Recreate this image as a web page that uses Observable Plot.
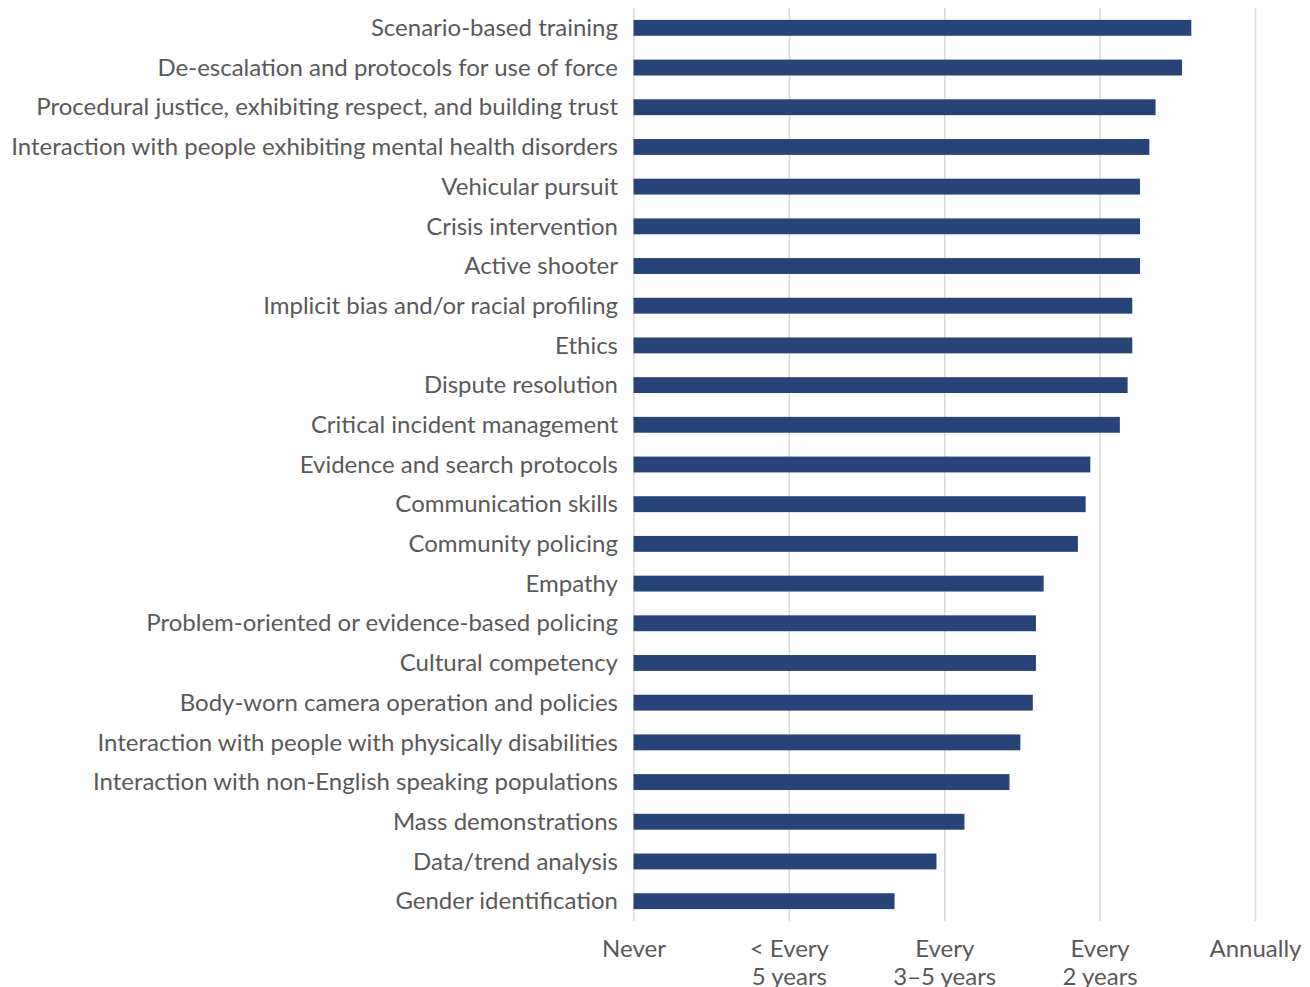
<!DOCTYPE html>
<html>
<head>
<meta charset="utf-8">
<script src="https://cdn.jsdelivr.net/npm/d3@7"></script>
<script src="https://cdn.jsdelivr.net/npm/@observablehq/plot@0.6"></script>
<style>
  html, body { margin: 0; padding: 0; background: #fff; }
  #chart svg { display: block; }
</style>
</head>
<body>
<div id="chart"></div>
<script>
const topics = [
  "Scenario-based training",
  "De-escalation and protocols for use of force",
  "Procedural justice, exhibiting respect, and building trust",
  "Interaction with people exhibiting mental health disorders",
  "Vehicular pursuit",
  "Crisis intervention",
  "Active shooter",
  "Implicit bias and/or racial profiling",
  "Ethics",
  "Dispute resolution",
  "Critical incident management",
  "Evidence and search protocols",
  "Communication skills",
  "Community policing",
  "Empathy",
  "Problem-oriented or evidence-based policing",
  "Cultural competency",
  "Body-worn camera operation and policies",
  "Interaction with people with physically disabilities",
  "Interaction with non-English speaking populations",
  "Mass demonstrations",
  "Data/trend analysis",
  "Gender identification"
];
const frequency = [3.59, 3.53, 3.36, 3.32, 3.26, 3.26, 3.26, 3.21, 3.21, 3.18, 3.13,
  2.94, 2.91, 2.86, 2.64, 2.59, 2.59, 2.57, 2.49, 2.42, 2.13, 1.95, 1.68];
const tickValues = [0, 1, 2, 3, 4];
const tickLabels = ["Never", "< Every\n5 years", "Every\n3\u20135 years", "Every\n2 years", "Annually"];

const data = topics.map((t, i) => ({topic: t, value: frequency[i]}));

const chart = Plot.plot({
  width: 1310,
  height: 987,
  marginLeft: 633.5,
  marginRight: 55,
  marginTop: 8,
  marginBottom: 66,
  style: {fontFamily: "Lato, sans-serif", fontSize: "24px", color: "#595959", background: "#fff"},
  x: {domain: [0, 4], label: null},
  y: {domain: topics, paddingInner: 0.6, paddingOuter: 0.3, round: false, label: null},
  marks: [
    Plot.ruleX(tickValues, {stroke: "#d9d9d9", strokeWidth: 1.5}),
    Plot.barX(data, {x: "value", y: "topic", fill: "#264478"}),
    Plot.axisY({tickSize: 0, tickPadding: 16, label: null, fontSize: 24}),
    Plot.axisX({ticks: tickValues, tickFormat: d => tickLabels[d], tickSize: 0, tickPadding: 16, lineHeight: 1.15, label: null, fontSize: 24})
  ]
});
document.getElementById("chart").append(chart);
</script>
</body>
</html>
